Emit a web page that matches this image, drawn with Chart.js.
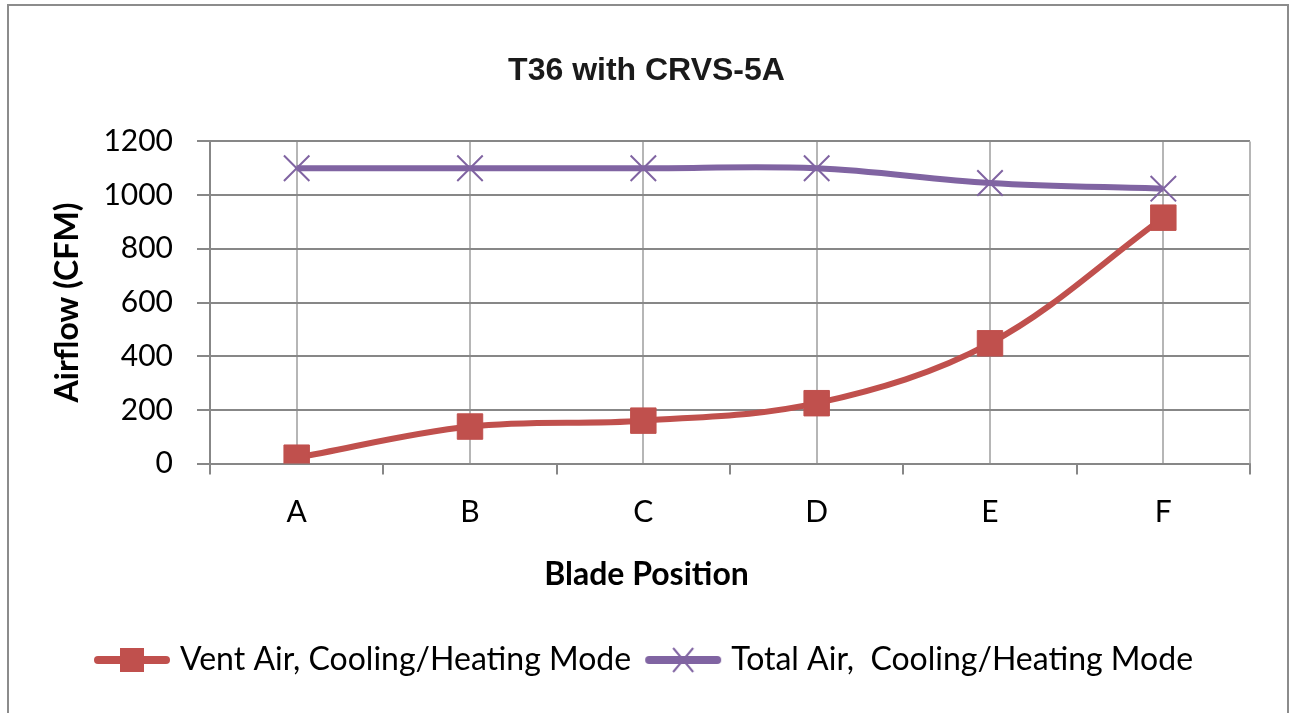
<!DOCTYPE html>
<html>
<head>
<meta charset="utf-8">
<script src="https://cdn.jsdelivr.net/npm/chart.js@4"></script>
<style>
  html, body { margin: 0; padding: 0; background: #ffffff; }
  #frame { position: absolute; left: 7px; top: 4px; width: 1282px; height: 760px; border: 2px solid #8c8c8c; box-sizing: border-box; }
  #wrap { position: absolute; left: 0; top: 0; width: 1293px; height: 713px; }
</style>
</head>
<body>
<div id="frame"></div>
<div id="wrap"><canvas id="c" width="1293" height="713"></canvas></div>
<script>
const categories = ['A', 'B', 'C', 'D', 'E', 'F'];
const ventAir = [22, 138, 160, 225, 448, 916];
const totalAir = [1100, 1100, 1100, 1100, 1045, 1024];
const yTicks = [0, 200, 400, 600, 800, 1000, 1200];
const seriesNames = ['Vent Air, Cooling/Heating Mode', 'Total Air,  Cooling/Heating Mode'];

const RED = '#C0504D';
const PURPLE = '#8064A2';
const GRID_DARK = '#878787';
const GRID_LIGHT = '#b6b6b6';

function legendIcon(color, kind) {
  const c = document.createElement('canvas');
  c.width = 78; c.height = 28;
  const g = c.getContext('2d');
  g.strokeStyle = color; g.lineWidth = 8; g.lineCap = 'round';
  g.beginPath(); g.moveTo(5, 14); g.lineTo(73, 14); g.stroke();
  if (kind === 'rect') {
    g.fillStyle = color; g.fillRect(39 - 12, 14 - 12, 24, 24);
  } else {
    g.lineWidth = 2; g.lineCap = 'butt';
    g.beginPath();
    g.moveTo(39 - 10, 14 - 12); g.lineTo(39 + 10, 14 + 12);
    g.moveTo(39 + 10, 14 - 12); g.lineTo(39 - 10, 14 + 12);
    g.stroke();
  }
  return c;
}
const icons = [legendIcon(RED, 'rect'), legendIcon(PURPLE, 'cross')];

const boundaryTicks = {
  id: 'boundaryTicks',
  beforeDatasetsDraw(chart) {
    const x = chart.scales.x, y = chart.scales.y, ctx = chart.ctx;
    ctx.save();
    ctx.lineWidth = 2;
    const xr = Math.round(x.getPixelForValue(categories.length - 0.5));
    ctx.strokeStyle = GRID_LIGHT;
    ctx.beginPath(); ctx.moveTo(xr, y.top); ctx.lineTo(xr, y.bottom); ctx.stroke();
    ctx.strokeStyle = GRID_DARK;
    ctx.beginPath();
    for (let i = 0; i <= categories.length; i++) {
      const px = Math.round(x.getPixelForValue(i - 0.5));
      ctx.moveTo(px, y.bottom); ctx.lineTo(px, y.bottom + 11);
    }
    ctx.stroke();
    ctx.restore();
  }
};

new Chart(document.getElementById('c'), {
  type: 'line',
  data: {
    labels: categories,
    datasets: [
      {
        label: seriesNames[0], data: ventAir,
        borderColor: RED, backgroundColor: RED, borderWidth: 6,
        tension: 0.35, pointStyle: 'rect', pointRadius: 18, pointHoverRadius: 18,
        pointBackgroundColor: RED, pointBorderColor: RED, pointBorderWidth: 1
      },
      {
        label: seriesNames[1], data: totalAir,
        borderColor: PURPLE, backgroundColor: PURPLE, borderWidth: 6,
        tension: 0.35, pointStyle: 'crossRot', pointRadius: 18, pointHoverRadius: 18,
        pointBorderColor: PURPLE, pointBorderWidth: 2
      }
    ]
  },
  options: {
    responsive: false,
    animation: false,
    layout: { padding: { left: 0, right: 0, top: 0, bottom: 27 } },
    plugins: {
      title: {
        display: true, text: 'T36 with CRVS-5A', color: '#1a1a1a',
        font: { family: 'Liberation Sans', size: 32, weight: 'bold' },
        padding: { top: 52, bottom: 51 }
      },
      subtitle: {
        display: true, text: 'Blade Position', position: 'bottom', weight: 500,
        color: '#000000',
        font: { family: 'Lato', size: 32, weight: 'bold' },
        padding: { top: 7, bottom: 30 }
      },
      legend: {
        position: 'bottom',
        labels: {
          usePointStyle: true, pointStyleWidth: 64, padding: 20,
          color: '#000000', font: { family: 'Lato', size: 32 },
          generateLabels(chart) {
            return chart.data.datasets.map((ds, i) => ({
              text: ds.label, pointStyle: icons[i], datasetIndex: i,
              fillStyle: ds.borderColor, strokeStyle: ds.borderColor, lineWidth: 0, hidden: false
            }));
          }
        }
      },
      tooltip: { enabled: false }
    },
    scales: {
      x: {
        offset: true,
        grid: { offset: false, color: GRID_LIGHT, lineWidth: 2, drawTicks: false },
        border: { color: GRID_DARK, width: 2 },
        ticks: { color: '#000000', font: { family: 'Lato', size: 30 }, padding: 31 },
        afterFit(s) { s.height = 85; }
      },
      y: {
        min: 0, max: 1200,
        afterBuildTicks(s) { s.ticks = yTicks.map(v => ({ value: v })); },
        grid: { color: GRID_DARK, lineWidth: 2, tickLength: 13 },
        border: { color: GRID_DARK, width: 2 },
        ticks: { color: '#000000', font: { family: 'Lato', size: 30 }, padding: 24,
                 callback: v => String(v) },
        title: {
          display: true, text: 'Airflow (CFM)', color: '#000000',
          font: { family: 'Lato', size: 32, weight: 'bold' },
          padding: { top: 48, bottom: 0 }
        },
        afterFit(s) { s.width = 210; }
      },
      yRight: {
        position: 'right', display: true,
        grid: { display: false, drawTicks: false },
        border: { display: false },
        ticks: { display: false },
        afterFit(s) { s.width = 43; }
      }
    }
  },
  plugins: [boundaryTicks]
});
</script>
</body>
</html>
